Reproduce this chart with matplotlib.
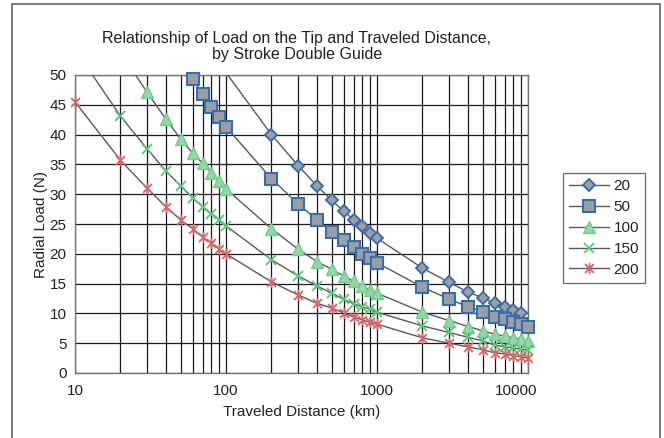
import matplotlib
matplotlib.use("Agg")
import matplotlib.pyplot as plt
from matplotlib.lines import Line2D
from matplotlib.path import Path
from matplotlib.patches import Rectangle
from matplotlib.ticker import FixedLocator, NullFormatter
from matplotlib.transforms import ScaledTranslation

plt.rcParams["font.family"] = ["Liberation Sans", "DejaVu Sans"]

# distance (km) and radial load (N) per series
dist_20 = [100, 200, 300, 400, 500, 600, 700, 800, 900, 1000,
           2000, 3000, 4000, 5000, 6000, 7000, 8000, 9000]
load_20 = [50.4, 40.0, 34.8, 31.4, 29.0, 27.2, 25.7, 24.6, 23.5, 22.6,
           17.6, 15.2, 13.6, 12.6, 11.7, 11.0, 10.5, 10.1]

dist_50 = [50, 60, 70, 80, 90, 100, 200, 300, 400, 500, 600, 700, 800, 900, 1000,
           2000, 3000, 4000, 5000, 6000, 7000, 8000, 9000, 10000]
load_50 = [52.4, 49.3, 46.8, 44.6, 43.0, 41.3, 32.6, 28.4, 25.7, 23.7, 22.3, 21.1, 20.0, 19.3, 18.5,
           14.4, 12.4, 11.1, 10.3, 9.4, 9.0, 8.6, 8.2, 7.8]

dist_100 = [20, 30, 40, 50, 60, 70, 80, 90, 100, 200, 300, 400, 500, 600, 700, 800, 900, 1000,
            2000, 3000, 4000, 5000, 6000, 7000, 8000, 9000, 10000]
load_100 = [53.9, 47.1, 42.6, 39.3, 36.9, 35.2, 33.6, 32.2, 30.9, 24.2, 20.8, 18.7, 17.4, 16.3,
            15.4, 14.6, 13.9, 13.4, 10.2, 8.8, 7.8, 7.1, 6.5, 6.2, 5.9, 5.7, 5.4]

dist_150 = [10, 20, 30, 40, 50, 60, 70, 80, 90, 100, 200, 300, 400, 500, 600, 700, 800, 900, 1000,
            2000, 3000, 4000, 5000, 6000, 7000, 8000, 9000, 10000]
load_150 = [54.3, 43.1, 37.6, 33.9, 31.4, 29.4, 27.9, 26.7, 25.7, 24.7, 19.0, 16.3, 14.6, 13.4,
            12.4, 11.6, 11.1, 10.7, 10.2, 7.9, 6.8, 6.0, 5.4, 4.7, 4.4, 4.2, 4.0, 3.8]

dist_200 = dist_150
load_200 = [45.5, 35.7, 31.0, 27.9, 25.7, 24.2, 22.8, 21.8, 20.8, 20.0, 15.3, 13.1, 11.7, 10.9,
            10.1, 9.4, 8.9, 8.5, 8.2, 5.9, 5.0, 4.4, 3.9, 3.4, 3.2, 2.9, 2.7, 2.5]

labels = ["20", "50", "100", "150", "200"]
x_ticks = [10, 100, 1000, 10000]
y_ticks = [0, 5, 10, 15, 20, 25, 30, 35, 40, 45, 50]

# excel style "star" marker: an x with a vertical bar
star = Path([(-1, -1), (1, 1), (-1, 1), (1, -1), (0, -1.25), (0, 1.25)],
            [Path.MOVETO, Path.LINETO, Path.MOVETO, Path.LINETO, Path.MOVETO, Path.LINETO])

blue_edge = "#3b6ea6"
gray_fill = "#9a9ea6"
line_col = "#5a5a5a"
styles = [
    dict(marker="D", ms=6.5, mfc=gray_fill, mec=blue_edge, mew=1.4),
    dict(marker="s", ms=8, mfc=gray_fill, mec=blue_edge, mew=1.5),
    dict(marker="^", ms=8.5, mfc="#94d6a5", mec="#74c98d", mew=1.0),
    dict(marker="x", ms=7.5, mfc="none", mec="#5cc67b", mew=1.3),
    dict(marker=star, ms=8, mfc="none", mec="#d4686a", mew=1.3),
]

fig = plt.figure(figsize=(6.64, 4.38), dpi=100)
ax = fig.add_axes([75 / 664, 1 - 373 / 438, (528 - 75) / 664, (373 - 75) / 438])

series = [(dist_20, load_20), (dist_50, load_50), (dist_100, load_100),
          (dist_150, load_150), (dist_200, load_200)]
handles = []
for (xs, ys), lab, st in zip(series, labels, styles):
    ax.plot(xs, ys, color=line_col, lw=1.0, zorder=3)
    xin = [x for x, y in zip(xs, ys) if y <= 50]
    yin = [y for y in ys if y <= 50]
    ax.plot(xin, yin, ls="none", clip_on=False, zorder=4, **st)
    handles.append(Line2D([], [], color=line_col, lw=1.0, label=lab, **st))

ax.set_xscale("log")
ax.set_xlim(10, 10000)
ax.set_ylim(0, 50)
ax.xaxis.set_major_locator(FixedLocator(x_ticks))
ax.set_xticklabels([str(v) for v in x_ticks])
ax.xaxis.set_minor_locator(FixedLocator([m * 10 ** e for e in range(1, 4) for m in range(2, 10)]))
ax.xaxis.set_minor_formatter(NullFormatter())
ax.set_yticks(y_ticks)
ax.tick_params(which="both", length=0, labelsize=11, colors="#222222")
ax.tick_params(axis="x", pad=8)
ax.tick_params(axis="y", pad=6)
# last x label sits a little left, as in the original
last = ax.get_xticklabels()[-1]
last.set_transform(last.get_transform() + ScaledTranslation(-0.12, 0, fig.dpi_scale_trans))

ax.grid(which="both", axis="x", color="#1a1a1a", lw=0.9)
ax.grid(which="major", axis="y", color="#1a1a1a", lw=0.9)
ax.set_axisbelow(True)
for sp in ax.spines.values():
    sp.set_color("#777777")
    sp.set_linewidth(1.0)

ax.set_xlabel("Traveled Distance (km)", fontsize=11, labelpad=5, color="#222222")
ax.set_ylabel("Radial Load (N)", fontsize=11, labelpad=1, color="#222222")

fig.text(0.447, 1 - 38 / 438, "Relationship of Load on the Tip and Traveled Distance,",
         ha="center", va="center", fontsize=11.5, color="#222222")
fig.text(0.447, 1 - 55 / 438, "by Stroke Double Guide",
         ha="center", va="center", fontsize=11.5, color="#222222")

leg = ax.legend(handles=handles, loc="center left", bbox_to_anchor=(563 / 664, 1 - 228 / 438),
                bbox_transform=fig.transFigure, frameon=True, fancybox=False,
                fontsize=11, handlelength=2.6, handletextpad=0.3,
                labelspacing=0.45, borderpad=0.4, borderaxespad=0)
leg.get_frame().set_edgecolor("#444444")
leg.get_frame().set_linewidth(0.9)
for t in leg.get_texts():
    t.set_color("#222222")

# outer chart border
fig.patches.append(Rectangle((12 / 664, -0.01), (660 - 12) / 664, 1 - 4 / 438 + 0.01,
                             transform=fig.transFigure, fill=False,
                             edgecolor="#666666", lw=1.2))

fig.savefig("out.png", dpi=100)
